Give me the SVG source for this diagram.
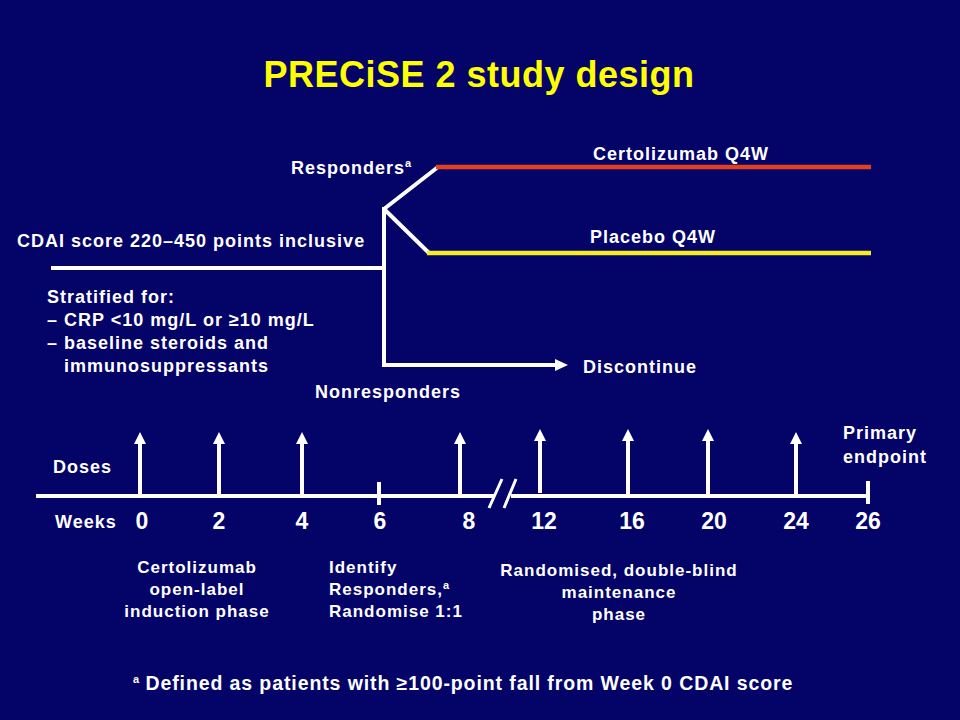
<svg xmlns="http://www.w3.org/2000/svg" width="960" height="720" viewBox="0 0 960 720">
<defs>
<style>
.t{font-family:"Liberation Sans",Arial,sans-serif;font-weight:bold;fill:#ffffff;font-size:18px;letter-spacing:1px}
.sm{font-size:17px;letter-spacing:1px}
.num{font-size:23px;letter-spacing:0;text-anchor:middle}
.sup{font-size:11px;letter-spacing:0}
.mid{text-anchor:middle}
.w{stroke:#ffffff;stroke-width:4;fill:none}
.dose{stroke:#ffffff;stroke-width:4;fill:none}
</style>
</defs>
<rect x="0" y="0" width="960" height="720" fill="#030368"/>
<text id="title" x="479" y="87" class="t" style="font-size:36px;fill:#ffff00;text-anchor:middle;letter-spacing:0.5px">PRECiSE 2 study design</text>

<g id="connectors">
<path class="w" d="M51,268 H384"/>
<path class="w" d="M384,207 V365 H555"/>
<path d="M555,359 L568,365 L555,371 z" fill="#ffffff"/>
<path class="w" d="M384,209 L438,167"/>
<path class="w" d="M384,209 L429,253"/>
<path d="M436,167 H871" stroke="#e5401e" stroke-width="4.5" fill="none"/>
<path d="M427,253 H871" stroke="#f6ee22" stroke-width="4.5" fill="none"/>
</g>

<g id="entry">
<text class="t" x="17" y="247">CDAI score 220–450 points inclusive</text>
<text class="t" x="47" y="303">Stratified for:</text>
<text class="t" x="47" y="326">– CRP &lt;10 mg/L or ≥10 mg/L</text>
<text class="t" x="47" y="349">– baseline steroids and</text>
<text class="t" x="64" y="372">immunosuppressants</text>
</g>
<g id="responders"><text class="t" x="291" y="174">Responders<tspan class="sup" dy="-7">a</tspan></text></g>
<g id="nonresponders"><text class="t" x="315" y="398">Nonresponders</text></g>
<g id="certolizumab"><text class="t mid" x="681" y="160">Certolizumab Q4W</text></g>
<g id="placebo"><text class="t mid" x="653" y="243">Placebo Q4W</text></g>
<g id="discontinue"><text class="t" x="583" y="373">Discontinue</text></g>

<g id="timeline">
<path class="w" d="M36,496 H495"/>
<path class="w" d="M511,496 H868"/>
<path stroke="#ffffff" stroke-width="3" d="M489,508 L502,479 M504,508 L516,479"/>
<path class="w" d="M379,482 V505"/>
<path class="w" d="M868,481 V504"/>
</g>
<g id="doses">
<g fill="#ffffff">
<path d="M140,432 L146,444 L134,444 z"/><path class="dose" d="M140,443 V494"/>
<path d="M219,432 L225,444 L213,444 z"/><path class="dose" d="M219,443 V494"/>
<path d="M302,432 L308,444 L296,444 z"/><path class="dose" d="M302,443 V494"/>
<path d="M460,432 L466,444 L454,444 z"/><path class="dose" d="M460,443 V494"/>
<path d="M540,429 L546,441 L534,441 z"/><path class="dose" d="M540,440 V493"/>
<path d="M628,429 L634,441 L622,441 z"/><path class="dose" d="M628,440 V494"/>
<path d="M708,429 L714,441 L702,441 z"/><path class="dose" d="M708,440 V494"/>
<path d="M796,432 L802,444 L790,444 z"/><path class="dose" d="M796,443 V494"/>
</g>
</g>
<g id="labels-axis">
<text class="t" x="53" y="473">Doses</text>
<text class="t" x="55" y="528">Weeks</text>
<text class="t num" x="142" y="529">0</text>
<text class="t num" x="219" y="529">2</text>
<text class="t num" x="302" y="529">4</text>
<text class="t num" x="380" y="529">6</text>
<text class="t num" x="469" y="529">8</text>
<text class="t num" x="544" y="529">12</text>
<text class="t num" x="632" y="529">16</text>
<text class="t num" x="714" y="529">20</text>
<text class="t num" x="796" y="529">24</text>
<text class="t num" x="868" y="529">26</text>
<text class="t" x="843" y="439">Primary</text>
<text class="t" x="843" y="463">endpoint</text>
</g>
<g id="induction">
<text class="t sm mid" x="197" y="573">Certolizumab</text>
<text class="t sm mid" x="197" y="595">open-label</text>
<text class="t sm mid" x="197" y="617">induction phase</text>
</g>
<g id="identify">
<text class="t sm" x="329" y="573">Identify</text>
<text class="t sm" x="329" y="595">Responders,<tspan class="sup" dy="-6">a</tspan></text>
<text class="t sm" x="329" y="617">Randomise 1:1</text>
</g>
<g id="maintenance">
<text class="t sm mid" x="619" y="576">Randomised, double-blind</text>
<text class="t sm mid" x="619" y="598">maintenance</text>
<text class="t sm mid" x="619" y="620">phase</text>
</g>
<g id="footnote">
<text class="t" x="133" y="690" style="font-size:19.5px;letter-spacing:0.9px"><tspan class="sup" dy="-7">a</tspan><tspan dy="7"> Defined as patients with ≥100-point fall from Week 0 CDAI score</tspan></text>
</g>
</svg>
